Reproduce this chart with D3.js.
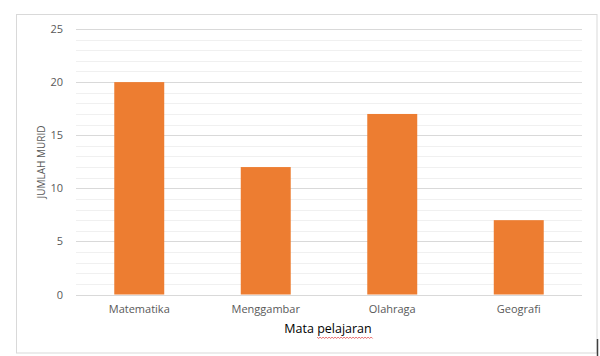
<!DOCTYPE html>
<html><head><meta charset="utf-8">
<script src="https://cdn.jsdelivr.net/npm/d3@7"></script>
<style>body{margin:0;background:#fff}svg{display:block}</style>
</head><body>
<script>
const categories = ["Matematika", "Menggambar", "Olahraga", "Geografi"];
const values = [20, 12, 17, 7];
const majorTicks = [0, 5, 10, 15, 20, 25];
const yTitle = "JUMLAH MURID";
const xTitle = "Mata pelajaran";

const W = 600, H = 356;
const m = {left: 76, right: 18, top: 29, bottom: 61.5};
const svg = d3.select("body").append("svg").attr("width", W).attr("height", H);

// frame
svg.append("rect").attr("x", 16.5).attr("y", 14.5).attr("width", 580.5).attr("height", 338.5)
  .attr("fill", "#fff").attr("stroke", "#d9d9d9").attr("stroke-width", 1);
svg.append("line").attr("x1", 597.5).attr("x2", 597.5).attr("y1", 339).attr("y2", 356)
  .attr("stroke", "#404040").attr("stroke-width", 1.5);

const x = d3.scaleBand().domain(categories).range([m.left, W - m.right]).paddingInner(0.605).paddingOuter(0.3025);
const y = d3.scaleLinear().domain([0, 25]).range([H - m.bottom, m.top]);

const g = svg.append("g");
// minor grid
g.selectAll("line.minor").data(d3.range(0, 26).filter(v => v % 5 !== 0)).join("line")
  .attr("x1", m.left).attr("x2", W - m.right)
  .attr("y1", d => Math.round(y(d)) + 0.5).attr("y2", d => Math.round(y(d)) + 0.5)
  .attr("stroke", "#f0f0f0").attr("stroke-width", 1);
// major grid
g.selectAll("line.major").data(majorTicks).join("line")
  .attr("x1", m.left).attr("x2", W - m.right)
  .attr("y1", d => Math.round(y(d)) + 0.5).attr("y2", d => Math.round(y(d)) + 0.5)
  .attr("stroke", "#d9d9d9").attr("stroke-width", 1);

// bars
g.selectAll("rect.bar").data(values).join("rect")
  .attr("x", (d, i) => x(categories[i])).attr("width", x.bandwidth())
  .attr("y", d => y(d)).attr("height", d => y(0) - y(d))
  .attr("fill", "#ed7d31");

// y axis
const yAxis = svg.append("g").attr("transform", `translate(${m.left - 13},0)`)
  .call(d3.axisLeft(y).tickValues(majorTicks).tickSize(0).tickPadding(0));
yAxis.select(".domain").remove();
yAxis.selectAll("text").attr("fill", "#595959").attr("font-size", 11)
  .attr("font-family", "'Open Sans', 'Liberation Sans', sans-serif");

// x axis
const xAxis = svg.append("g").attr("transform", `translate(0,${H - m.bottom})`)
  .call(d3.axisBottom(x).tickSize(0).tickPadding(11));
xAxis.select(".domain").remove();
xAxis.selectAll("text").attr("fill", "#595959").attr("font-size", 11)
  .attr("font-family", "'Open Sans', 'Liberation Sans', sans-serif");

// titles
svg.append("text").attr("transform", "translate(45,162) rotate(-90)")
  .attr("text-anchor", "middle").attr("fill", "#595959").attr("font-size", 10)
  .attr("font-family", "'Open Sans', 'Liberation Sans', sans-serif").text(yTitle);

const xt = svg.append("text").attr("x", 328).attr("y", 333)
  .attr("text-anchor", "middle").attr("fill", "#000").attr("font-size", 12.5)
  .attr("font-family", "'Open Sans', 'Liberation Sans', sans-serif");
xt.append("tspan").text("Mata ");
const ts = xt.append("tspan").text("pelajaran");

// spell-check wavy underline under "pelajaran"
const words = xTitle.split(" ");
const tsNode = ts.node();
const start = tsNode.getStartPositionOfChar(0).x;
const end = tsNode.getEndPositionOfChar(words[1].length - 1).x;
let dPath = `M${start},${337}`;
for (let px = start, k = 0; px < end; px += 1.5, k++) {
  dPath += ` L${px + 1.5},${k % 2 ? 337 : 338.5}`;
}
svg.append("path").attr("d", dPath).attr("fill", "none").attr("stroke", "#e03030").attr("stroke-width", 0.7);
</script>
</body></html>
